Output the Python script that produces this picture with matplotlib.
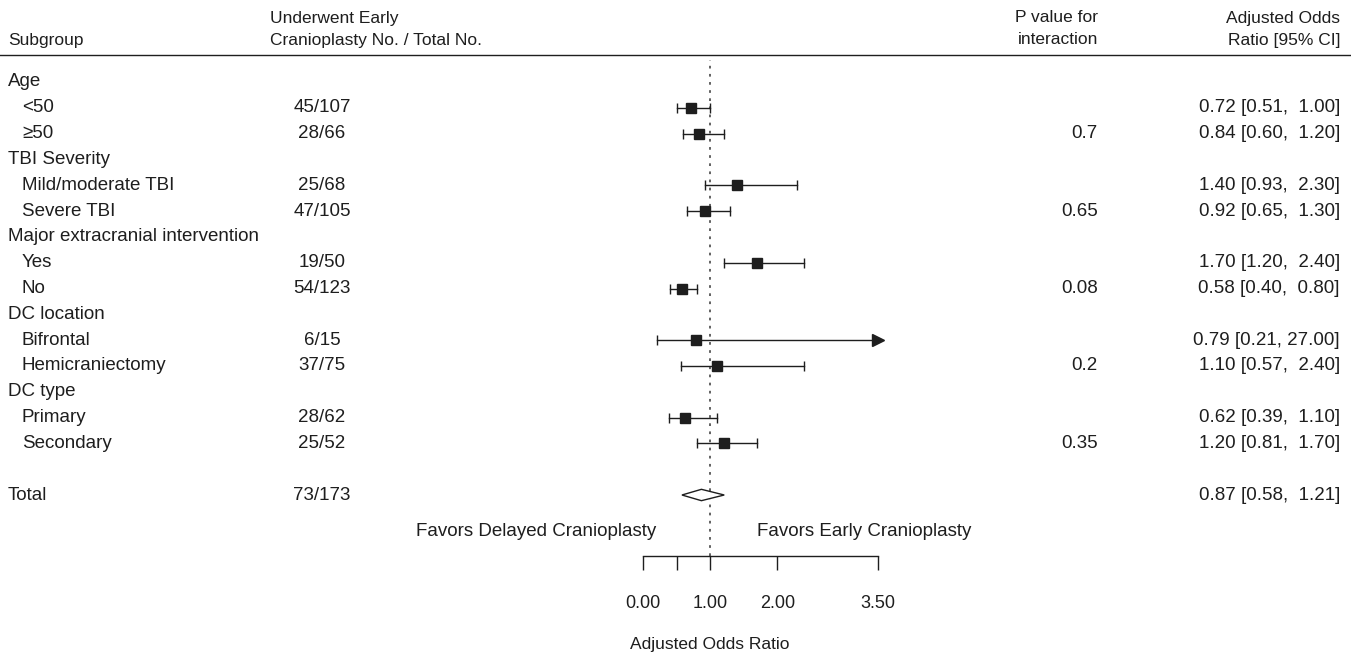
import numpy as np
import matplotlib
matplotlib.use("Agg")
import matplotlib.pyplot as plt
import matplotlib.transforms as mtransforms
from matplotlib.lines import Line2D

plt.rcParams['font.family'] = ['Liberation Sans', 'DejaVu Sans']
plt.rcParams['font.size'] = 13.5

# ----------------------------------------------------------------------------
# data
row_pos = [0, 1, 2, 3, 4, 5, 6, 7, 8, 9, 10, 11, 12, 13, 14, 16]
labels = ['Age', '<50', '\u226550', 'TBI Severity', 'Mild/moderate TBI', 'Severe TBI',
          'Major extracranial intervention', 'Yes', 'No', 'DC location', 'Bifrontal',
          'Hemicraniectomy', 'DC type', 'Primary', 'Secondary', 'Total']
is_heading = [True, False, False, True, False, False, True, False, False, True, False,
              False, True, False, False, True]
counts = ['', '45/107', '28/66', '', '25/68', '47/105', '', '19/50', '54/123', '',
          '6/15', '37/75', '', '28/62', '25/52', '73/173']
pvals = ['', '', '0.7', '', '', '0.65', '', '', '0.08', '', '', '0.2', '', '', '0.35', '']
odds = [None, 0.72, 0.84, None, 1.40, 0.92, None, 1.70, 0.58, None, 0.79, 1.10, None, 0.62, 1.20, 0.87]
ci_lo = [None, 0.51, 0.60, None, 0.93, 0.65, None, 1.20, 0.40, None, 0.21, 0.57, None, 0.39, 0.81, 0.58]
ci_hi = [None, 1.00, 1.20, None, 2.30, 1.30, None, 2.40, 0.80, None, 27.00, 2.40, None, 1.10, 1.70, 1.21]

xticks = [0, 0.5, 1, 2, 3.5]
xticklabels = ['0.00', '', '1.00', '2.00', '3.50']
x_max = 3.5

# ----------------------------------------------------------------------------
W, H = 1351, 654
fig = plt.figure(figsize=(W / 100, H / 100), dpi=100)

# forest panel: x axis line at 556 px, panel top at 60 px
ax = fig.add_axes([643 / W, (H - 556) / H, 235 / W, (556 - 60) / H])
row_h = 25.8125
ax.set_ylim((556 - 82) / row_h, (60 - 82) / row_h)
ax.set_xlim(0, x_max)

ink = '#1e1e1e'
ax.axvline(1, color='#555555', lw=1.3, ls=(0, (1.5, 3)), zorder=1)

for r, m, lo, hi, lab in zip(row_pos, odds, ci_lo, ci_hi, labels):
    if m is None:
        continue
    if lab == 'Total':
        dh = 0.22
        ax.fill([lo, m, hi, m], [r, r - dh, r, r + dh], facecolor='white',
                edgecolor=ink, lw=1.0, zorder=3)
        continue
    hi_c = min(hi, x_max)
    ax.plot([lo, hi_c], [r, r], color=ink, lw=1.0, zorder=2)
    ax.plot([lo], [r], marker='|', ms=7, mew=1.0, color=ink, zorder=2)
    if hi > x_max:
        ax.plot([x_max], [r], marker='>', ms=8, color=ink, clip_on=False, zorder=2)
    else:
        ax.plot([hi], [r], marker='|', ms=7, mew=1.0, color=ink, zorder=2)
    ax.plot([m], [r], marker='s', ms=6.5, color=ink, zorder=3)

for s in ['top', 'left', 'right']:
    ax.spines[s].set_visible(False)
ax.spines['bottom'].set_color(ink)
ax.spines['bottom'].set_linewidth(1.0)
ax.set_yticks([])
ax.set_xticks(xticks)
ax.set_xticklabels(xticklabels)
ax.tick_params(axis='x', direction='out', length=10, width=1.0, color=ink,
               pad=18, labelsize=13, labelcolor=ink)
ax.set_xlabel('Adjusted Odds Ratio', fontsize=12.5, color=ink, va='center')
ax.xaxis.set_label_coords(1 / x_max, (556 - 645) / 496)
ax.patch.set_visible(False)

fav_y = (532 - 82) / row_h
ax.text(1 - 0.8, fav_y, 'Favors Delayed Cranioplasty', ha='right', va='center', color=ink)
ax.text(1 + 0.7, fav_y, 'Favors Early Cranioplasty', ha='left', va='center', color=ink)

# table columns, x in figure fraction and y in rows
tr = mtransforms.blended_transform_factory(fig.transFigure, ax.transData)
for r, lab, head, c, p, m, lo, hi in zip(row_pos, labels, is_heading, counts, pvals,
                                         odds, ci_lo, ci_hi):
    fig.text((8 if head else 22) / W, r, lab, transform=tr, ha='left', va='center', color=ink)
    fig.text(322 / W, r, c, transform=tr, ha='center', va='center', color=ink)
    if p:
        fig.text(1098 / W, r, p, transform=tr, ha='right', va='center', color=ink)
    if m is not None:
        fig.text(1340 / W, r, f'{m:.2f} [{lo:.2f}, {hi:5.2f}]', transform=tr,
                 ha='right', va='center', color=ink)

# header
hs = 12.5
y1 = 1 - 18 / H
y2 = 1 - 40 / H
fig.text(8 / W, y2, 'Subgroup', ha='left', va='center', color=ink, fontsize=hs)
fig.text(270 / W, y1, 'Underwent Early', ha='left', va='center', color=ink, fontsize=hs)
fig.text(270 / W, y2, 'Cranioplasty No. / Total No.', ha='left', va='center', color=ink, fontsize=hs)
fig.text(1098 / W, y1, 'P value for', ha='right', va='center', color=ink, fontsize=hs)
fig.text(1098 / W, y2, 'interaction', ha='right', va='center', color=ink, fontsize=hs)
fig.text(1340 / W, y1, 'Adjusted Odds', ha='right', va='center', color=ink, fontsize=hs)
fig.text(1340 / W, y2, 'Ratio [95% CI]', ha='right', va='center', color=ink, fontsize=hs)
fig.add_artist(Line2D([0, 1], [1 - 55 / H, 1 - 55 / H], transform=fig.transFigure,
                      color=ink, lw=1.0))

fig.savefig('out.png', dpi=100)
